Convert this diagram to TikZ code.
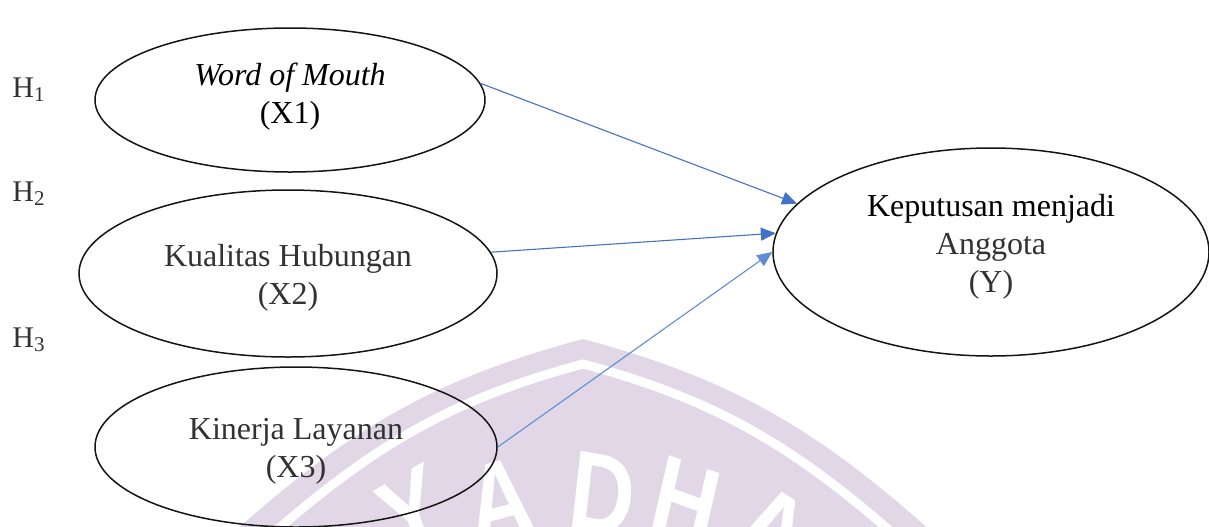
\documentclass[tikz,border=0pt]{standalone}
\usepackage{fontspec}
\setmainfont{Liberation Serif}
\newfontfamily\markfont{Liberation Sans}[BoldFont={Liberation Sans Bold}]
\usetikzlibrary{arrows.meta,shapes.geometric}
\definecolor{linkblue}{RGB}{68,114,196}
\definecolor{linkblue2}{RGB}{96,140,212}
\definecolor{wmark}{RGB}{225,215,231}
\definecolor{txtgray}{RGB}{50,50,50}
\begin{document}
\begin{tikzpicture}[x=0.5pt,y=0.5pt,
  var/.style={ellipse, draw=black!92, line width=0.75pt, inner sep=0pt,
    align=center, font=\fontsize{16}{19}\selectfont},
  link/.style={draw=linkblue, line width=0.55pt,
    -{Triangle[length=7.5pt,width=6.5pt]}},
  hyp/.style={anchor=base west, inner sep=0pt, text=txtgray,
    font=\fontsize{15}{18}\selectfont},
  markletter/.style={text=white, inner sep=0pt, xscale=0.8,
    font=\markfont\bfseries\fontsize{56}{56}\selectfont},
]
\useasboundingbox (0,0) rectangle (1209,-526);

% faint emblem in the background
\begin{scope}
  \clip (0,0) rectangle (1209,-526);
  \fill[wmark] (225,-540) to[out=42,in=195] (583,-339)
    to[out=-15,in=138] (941,-540) -- cycle;
  \draw[white, line width=4.5pt] (243,-560) to[out=42,in=195] (583,-364)
    to[out=-15,in=138] (923,-560);
  \node[markletter, rotate=25] (wmY) at (412,-512) {Y};
  \node[markletter, rotate=12] (wmA) at (500,-500) {A};
  \node[markletter, rotate=-8] (wmD) at (603,-494) {D};
  \node[markletter, rotate=-16] (wmH) at (686,-502) {H};
  \node[markletter, rotate=-28] (wmA2) at (775,-530) {A};
\end{scope}

% hypothesis labels
\node[hyp] (h1) at (12,-97) {H\textsubscript{1}};
\node[hyp] (h2) at (12,-201) {H\textsubscript{2}};
\node[hyp] (h3) at (12,-347) {H\textsubscript{3}};

% variables
\node[var, minimum width=195pt, minimum height=72pt] (x1) at (290,-100)
  {\textit{Word of Mouth}\\(X1)\rule[-7pt]{0pt}{7pt}};
\node[var, minimum width=209pt, minimum height=83.5pt, text=txtgray] (x2) at (288,-273.5)
  {\rule{0pt}{15.4pt}Kualitas Hubungan\\(X2)};
\node[var, minimum width=201pt, minimum height=80pt, text=txtgray] (x3) at (296,-447)
  {\rule{0pt}{15pt}Kinerja Layanan\\(X3)};
\node[var, minimum width=218pt, minimum height=104pt, text=txtgray] (y) at (991,-252)
  {\textcolor{black}{Keputusan menjadi}\\Anggota\\(Y)\rule[-8.4pt]{0pt}{8.4pt}};

% hypothesised effects
\draw[link] (x1.5) -- (y.166);
\draw[link] (x2.6) -- (y.175);
\draw[link, draw=linkblue2] (x3.east) -- (y.west);
\end{tikzpicture}
\end{document}
